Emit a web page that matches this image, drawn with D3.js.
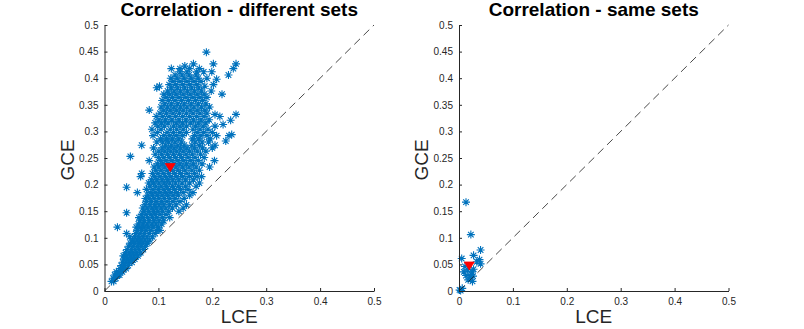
<!DOCTYPE html>
<html>
<head>
<meta charset="utf-8">
<script src="https://cdn.jsdelivr.net/npm/d3@7"></script>
<style>
	body { margin: 0; background: #fff; }
	svg { display: block; font-family: "Liberation Sans", Arial, Helvetica, sans-serif; }
</style>
</head>
<body>
<div id="chart"></div>
<script>
// axis ticks, shared by both panels
var tickValues = [0, 0.05, 0.1, 0.15, 0.2, 0.25, 0.3, 0.35, 0.4, 0.45, 0.5];
var xTickValues = [0, 0.1, 0.2, 0.3, 0.4, 0.5];
var titles = ["Correlation - different sets", "Correlation - same sets"];

// different sets: each row is [GCE, [LCE values read at that GCE]]
var diffRows = [
	[0.018, [0.013, 0.017]],
	[0.024, [0.016, 0.021]],
	[0.030, [0.019, 0.025, 0.028]],
	[0.036, [0.022, 0.027, 0.033]],
	[0.042, [0.029, 0.035, 0.040]],
	[0.048, [0.031, 0.037, 0.044]],
	[0.054, [0.034, 0.040, 0.046, 0.051]],
	[0.060, [0.036, 0.043, 0.050, 0.056]],
	[0.066, [0.035, 0.041, 0.048, 0.055, 0.062]],
	[0.072, [0.039, 0.046, 0.053, 0.060, 0.067]],
	[0.078, [0.042, 0.050, 0.057, 0.064, 0.072]],
	[0.084, [0.045, 0.053, 0.061, 0.068, 0.076]],
	[0.090, [0.048, 0.056, 0.064, 0.071, 0.080]],
	[0.096, [0.052, 0.060, 0.067, 0.075, 0.084]],
	[0.102, [0.047, 0.056, 0.063, 0.071, 0.079, 0.089]],
	[0.108, [0.041, 0.058, 0.066, 0.074, 0.083, 0.094]],
	[0.114, [0.061, 0.069, 0.077, 0.086, 0.097, 0.103]],
	[0.120, [0.024, 0.059, 0.066, 0.073, 0.081, 0.090, 0.100]],
	[0.126, [0.063, 0.071, 0.079, 0.088, 0.096, 0.106]],
	[0.132, [0.066, 0.074, 0.083, 0.092, 0.101, 0.110]],
	[0.138, [0.064, 0.071, 0.080, 0.089, 0.097, 0.108, 0.121]],
	[0.144, [0.069, 0.077, 0.086, 0.094, 0.103, 0.114]],
	[0.147, [0.041]],
	[0.150, [0.073, 0.082, 0.091, 0.099, 0.108, 0.119, 0.138]],
	[0.156, [0.071, 0.079, 0.088, 0.096, 0.105, 0.114, 0.126, 0.146]],
	[0.162, [0.075, 0.084, 0.093, 0.101, 0.110, 0.121, 0.133, 0.152]],
	[0.168, [0.078, 0.087, 0.096, 0.106, 0.116, 0.127, 0.140]],
	[0.174, [0.076, 0.083, 0.092, 0.101, 0.111, 0.121, 0.131, 0.148]],
	[0.180, [0.080, 0.089, 0.098, 0.107, 0.117, 0.127, 0.137, 0.158]],
	[0.185, [0.061, 0.085, 0.094, 0.103, 0.113, 0.123, 0.134, 0.146, 0.164]],
	[0.191, [0.078, 0.090, 0.100, 0.110, 0.119, 0.130, 0.141, 0.155]],
	[0.195, [0.041]],
	[0.197, [0.084, 0.095, 0.105, 0.115, 0.126, 0.137, 0.150, 0.170]],
	[0.203, [0.082, 0.091, 0.101, 0.111, 0.121, 0.132, 0.144, 0.158, 0.176]],
	[0.209, [0.087, 0.097, 0.107, 0.117, 0.127, 0.138, 0.150, 0.165]],
	[0.215, [0.067, 0.093, 0.103, 0.113, 0.123, 0.134, 0.145, 0.158, 0.172, 0.180]],
	[0.221, [0.069, 0.089, 0.099, 0.109, 0.119, 0.130, 0.141, 0.153, 0.167]],
	[0.227, [0.095, 0.105, 0.116, 0.126, 0.137, 0.149, 0.162, 0.176]],
	[0.233, [0.092, 0.101, 0.112, 0.122, 0.133, 0.145, 0.157, 0.170, 0.195]],
	[0.239, [0.098, 0.108, 0.118, 0.129, 0.140, 0.152, 0.165, 0.181]],
	[0.245, [0.083, 0.104, 0.114, 0.125, 0.136, 0.147, 0.160, 0.174, 0.204]],
	[0.251, [0.100, 0.110, 0.121, 0.132, 0.143, 0.155, 0.168, 0.185]],
	[0.253, [0.048]],
	[0.257, [0.094, 0.106, 0.117, 0.128, 0.139, 0.151, 0.163, 0.178]],
	[0.263, [0.101, 0.112, 0.123, 0.134, 0.146, 0.158, 0.172, 0.188]],
	[0.269, [0.091, 0.107, 0.118, 0.129, 0.141, 0.153, 0.167, 0.182, 0.200]],
	[0.274, [0.069, 0.113, 0.124, 0.136, 0.148, 0.162, 0.176, 0.205]],
	[0.280, [0.097, 0.108, 0.119, 0.131, 0.143, 0.168, 0.181, 0.193]],
	[0.282, [0.225]],
	[0.286, [0.104, 0.115, 0.126, 0.138, 0.163, 0.175, 0.196]],
	[0.292, [0.090, 0.110, 0.121, 0.133, 0.145, 0.167, 0.179, 0.190, 0.208, 0.231]],
	[0.294, [0.236]],
	[0.298, [0.098, 0.116, 0.128, 0.140, 0.152, 0.172, 0.184, 0.200]],
	[0.304, [0.088, 0.105, 0.122, 0.134, 0.146, 0.164, 0.177, 0.192]],
	[0.310, [0.099, 0.111, 0.128, 0.140, 0.152, 0.169, 0.183, 0.205]],
	[0.313, [0.220]],
	[0.316, [0.094, 0.106, 0.118, 0.133, 0.145, 0.160, 0.174, 0.188]],
	[0.321, [0.234]],
	[0.322, [0.101, 0.113, 0.125, 0.138, 0.151, 0.165, 0.179, 0.194]],
	[0.328, [0.096, 0.108, 0.120, 0.132, 0.145, 0.158, 0.171, 0.185, 0.214]],
	[0.332, [0.205, 0.244]],
	[0.334, [0.103, 0.115, 0.127, 0.139, 0.152, 0.164, 0.177, 0.190]],
	[0.340, [0.083, 0.110, 0.122, 0.134, 0.146, 0.159, 0.172, 0.186]],
	[0.346, [0.105, 0.117, 0.129, 0.141, 0.153, 0.166, 0.180, 0.195]],
	[0.352, [0.112, 0.124, 0.136, 0.148, 0.161, 0.174, 0.188]],
	[0.358, [0.107, 0.119, 0.131, 0.143, 0.156, 0.169, 0.182]],
	[0.364, [0.114, 0.126, 0.138, 0.151, 0.164, 0.177, 0.190]],
	[0.370, [0.110, 0.121, 0.133, 0.146, 0.159, 0.172, 0.185, 0.218]],
	[0.376, [0.117, 0.129, 0.141, 0.154, 0.167, 0.180, 0.198]],
	[0.382, [0.097, 0.124, 0.136, 0.149, 0.162, 0.175]],
	[0.385, [0.102, 0.186]],
	[0.388, [0.120, 0.132, 0.145, 0.158, 0.171, 0.202]],
	[0.394, [0.127, 0.140, 0.153, 0.166, 0.179]],
	[0.398, [0.208]],
	[0.400, [0.123, 0.135, 0.148, 0.161, 0.174, 0.190]],
	[0.406, [0.131, 0.144, 0.157, 0.170, 0.230]],
	[0.412, [0.140, 0.153, 0.171, 0.184, 0.199]],
	[0.418, [0.124, 0.140, 0.158, 0.176, 0.239]],
	[0.423, [0.149]],
	[0.427, [0.165, 0.202, 0.244]],
	[0.449, [0.189]]
];

// same sets: [LCE, GCE]
var samePoints = [
	[0.013, 0.167], [0.022, 0.106], [0.005, 0.061], [0.040, 0.077],
	[0.027, 0.067], [0.038, 0.059], [0.033, 0.055], [0.040, 0.051],
	[0.011, 0.046], [0.009, 0.036], [0.013, 0.029], [0.021, 0.026],
	[0.024, 0.036], [0.027, 0.041], [0.017, 0.021], [0.023, 0.031],
	[0.026, 0.028], [0.016, 0.040], [0.003, 0.001], [0.006, 0.005],
	[0.001, 0.002], [0.025, 0.018]
];

// mean markers [LCE, GCE]
var meanDiff = [0.122, 0.232];
var meanSame = [0.019, 0.047];

var diffPoints = [];
diffRows.forEach(function (r) {
	r[1].forEach(function (x) {
		diffPoints.push([x, r[0]]);
	});
});

var blue = "#0072BD";
var axisColor = "#262626";
var width = 269.5, height = 266;

var svg = d3.select("#chart")
	.append("svg")
	.attr("width", 804)
	.attr("height", 329);

var asterisk = "M-4,0H4M0,-4V4M-2.8,-2.8L2.8,2.8M-2.8,2.8L2.8,-2.8";

function drawPanel(left, title, points, mean) {
	var g = svg.append("g")
		.attr("transform", "translate(" + left + ",25)");

	var x = d3.scaleLinear().domain([0, 0.5]).range([0, width]);
	var y = d3.scaleLinear().domain([0, 0.5]).range([height, 0]);

	g.selectAll("path.pt")
		.data(points)
		.enter()
		.append("path")
		.attr("class", "pt")
		.attr("transform", function (d) {
			return "translate(" + x(d[0]) + "," + y(d[1]) + ")";
		})
		.attr("d", asterisk)
		.attr("fill", "none")
		.attr("stroke", blue)
		.attr("stroke-width", 1.1);

	// mean, red down triangle
	g.append("path")
		.attr("transform", "translate(" + x(mean[0]) + "," + y(mean[1]) + ")")
		.attr("d", "M-5,-4L5,-4L0,4Z")
		.attr("fill", "#ff0000")
		.attr("stroke", "#ff0000")
		.attr("stroke-width", 0.8);

	// y = x reference
	g.append("line")
		.attr("x1", x(0)).attr("y1", y(0))
		.attr("x2", x(0.5)).attr("y2", y(0.5))
		.attr("stroke", "#1a1a1a")
		.attr("stroke-width", 0.8)
		.attr("stroke-dasharray", "8,5");

	var xAxis = d3.axisBottom(x).tickValues(xTickValues).tickSizeInner(-3).tickSizeOuter(0)
		.tickFormat(d3.format("~g")).tickPadding(7);
	var yAxis = d3.axisLeft(y).tickValues(tickValues).tickSizeInner(-3).tickSizeOuter(0)
		.tickFormat(d3.format("~g")).tickPadding(6);

	var gx = g.append("g")
		.attr("transform", "translate(0," + height + ")")
		.call(xAxis);
	var gy = g.append("g").call(yAxis);

	[gx, gy].forEach(function (a) {
		a.selectAll("path.domain").attr("stroke", axisColor).attr("stroke-width", 1);
		a.selectAll(".tick line").attr("stroke", axisColor);
		a.selectAll(".tick text")
			.attr("fill", axisColor)
			.style("font-size", "10px")
			.style("font-family", "Liberation Sans, Arial, sans-serif");
	});

	g.append("text")
		.attr("x", width / 2)
		.attr("y", -9)
		.attr("text-anchor", "middle")
		.style("font-size", "19px")
		.style("font-weight", "bold")
		.attr("fill", "#000")
		.text(title);

	g.append("text")
		.attr("x", width / 2)
		.attr("y", height + 32)
		.attr("text-anchor", "middle")
		.style("font-size", "19px")
		.attr("fill", axisColor)
		.text("LCE");

	g.append("text")
		.attr("transform", "translate(-31," + (height / 2 + 2) + ") rotate(-90)")
		.attr("text-anchor", "middle")
		.style("font-size", "19px")
		.attr("fill", axisColor)
		.text("GCE");
}

drawPanel(104.5, titles[0], diffPoints, meanDiff);
drawPanel(459, titles[1], samePoints, meanSame);
</script>
</body>
</html>
